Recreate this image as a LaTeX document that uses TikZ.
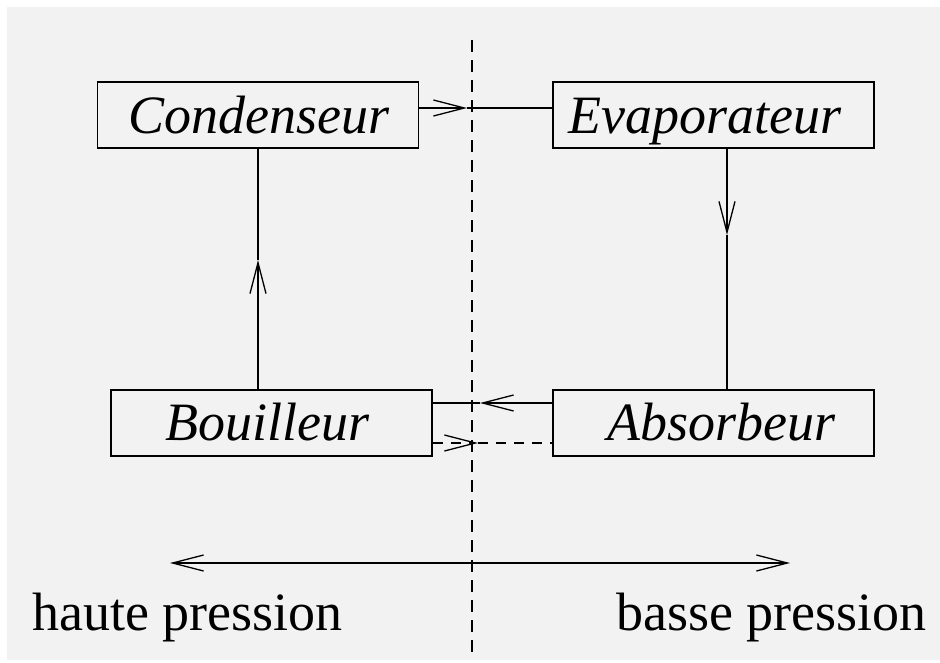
\documentclass[tikz,border=0pt]{standalone}
\usepackage{fontspec}
\setmainfont{Liberation Serif}
\usetikzlibrary{arrows.meta}
\definecolor{paper}{HTML}{F2F2F2}
\tikzset{
  unitbox/.style={draw=black, line width=1.5pt, minimum width=321pt, minimum height=66pt, inner sep=0pt},
  boxtext/.style={anchor=base west, inner sep=0pt, font=\fontsize{54}{60}\selectfont\itshape},
  zonetext/.style={inner sep=0pt, font=\fontsize{54}{60}\selectfont},
  flow/.style={line width=1.2pt},
  barb/.style={-{Straight Barb[length=31pt,width=16pt,line width=1.3pt]}},
  gap/.style={dash pattern=on 10pt off 8pt}
}
\begin{document}
\begin{tikzpicture}[x=1pt,y=-1pt]
  \useasboundingbox (0,0) rectangle (940,662);
  \fill[white] (0,0) rectangle (940,662);
  \fill[paper] (7,7) rectangle (940,660);

  % pressure boundary
  \coordinate (limtop) at (472,40);
  \coordinate (limbot) at (472,652);
  \draw[line width=1.2pt, dash pattern=on 12pt off 8pt] (limtop) -- (limbot);

  % components
  \node[unitbox] (cond) at (258,115) {};
  \node[unitbox] (evap) at (713.5,115) {};
  \node[unitbox] (boui) at (271.5,423) {};
  \node[unitbox] (abso) at (713.5,423) {};
  \node[boxtext] (condt) at (128,133) {Condenseur};
  \node[boxtext] (evapt) at (568,133) {Evaporateur};
  \node[boxtext] (bouit) at (165,440) {Bouilleur};
  \node[boxtext] (absot) at (607,440) {Absorbeur};

  % arrow tip positions along the connectors
  \coordinate (tipCE) at (467,108);
  \coordinate (colR) at (727,0);
  \coordinate (tipEA) at (727,235);
  \coordinate (tipAB) at (480,403);
  \coordinate (tipBA) at (478,443);
  \coordinate (colL) at (258,0);
  \coordinate (tipBC) at (258,260);

  % condenseur -> evaporateur
  \draw[flow, barb] (cond.east |- tipCE) -- (tipCE);
  \draw[flow] (tipCE) -- (evap.west |- tipCE);
  % evaporateur -> absorbeur
  \draw[flow, barb] (evap.south -| colR) -- (tipEA);
  \draw[flow] (tipEA) -- (abso.north -| colR);
  % absorbeur -> bouilleur
  \draw[flow, barb] (abso.west |- tipAB) -- (tipAB);
  \draw[flow] (tipAB) -- (boui.east |- tipAB);
  % bouilleur -> absorbeur (dashed)
  \draw[flow, gap, barb] (boui.east |- tipBA) -- (tipBA);
  \draw[flow, gap] (tipBA) -- (abso.west |- tipBA);
  % bouilleur -> condenseur
  \draw[flow, barb] (boui.north -| colL) -- (tipBC);
  \draw[flow] (tipBC) -- (cond.south -| colL);

  % pressure zones
  \coordinate (zoneL) at (170,563);
  \coordinate (zoneR) at (790,563);
  \draw[flow, {Straight Barb[length=31pt,width=16pt,line width=1.3pt]}-{Straight Barb[length=31pt,width=16pt,line width=1.3pt]}] (zoneL) -- (zoneR);
  \node[zonetext, anchor=base west] (hp) at (32,630) {haute pression};
  \node[zonetext, anchor=base east] (bp) at (927,630) {basse pression};
\end{tikzpicture}
\end{document}
